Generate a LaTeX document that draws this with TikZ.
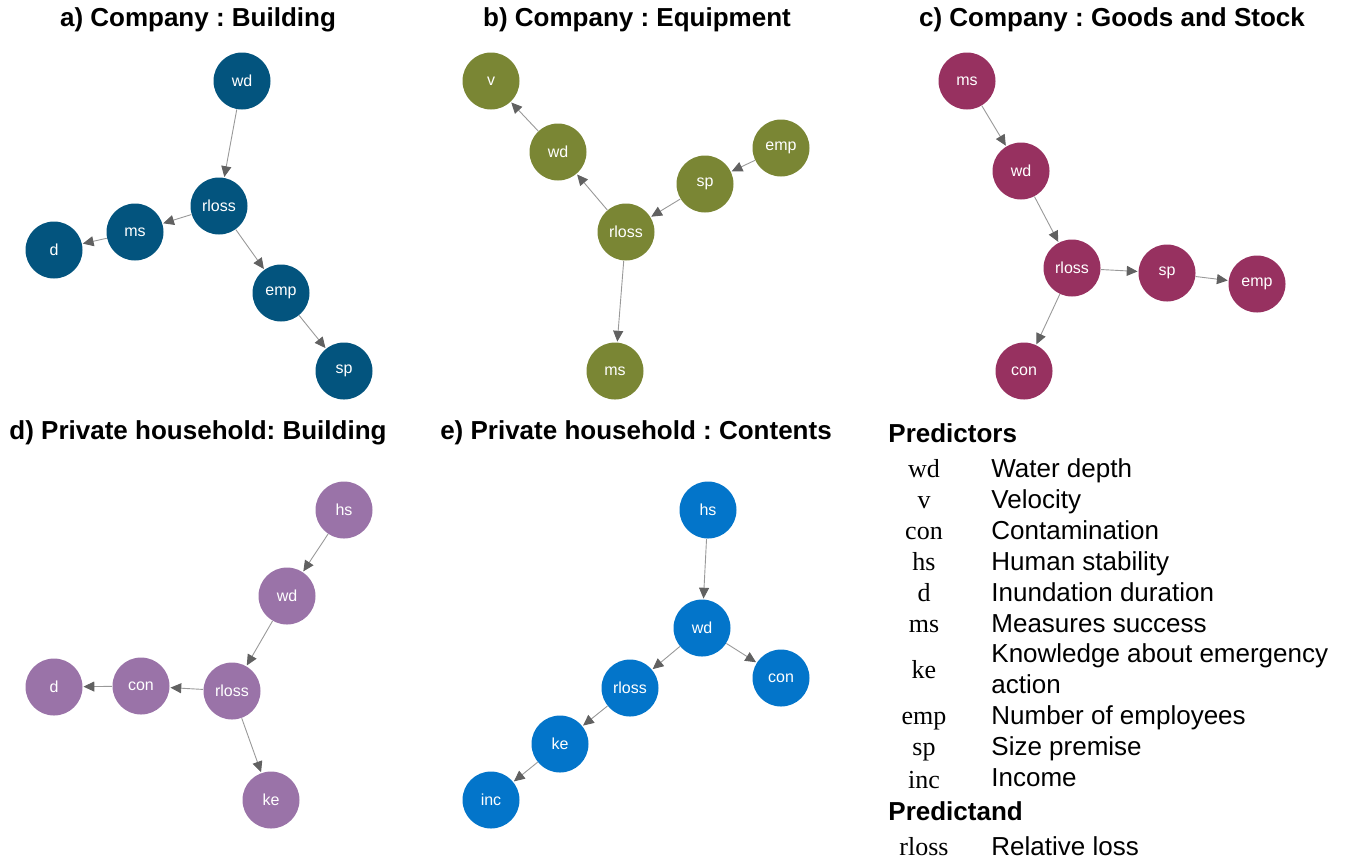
\documentclass[tikz,border=0pt]{standalone}
\usepackage{fontspec}
\setmainfont{Liberation Sans}
\newfontfamily\abbrfont{Liberation Serif}
\usetikzlibrary{arrows.meta}
\frenchspacing

\definecolor{colA}{RGB}{3,84,126}
\definecolor{colB}{RGB}{122,134,52}
\definecolor{colC}{RGB}{151,49,96}
\definecolor{colD}{RGB}{154,115,168}
\definecolor{colE}{RGB}{3,117,202}

\tikzset{
	var/.style={circle,minimum size=28.5pt,inner sep=0pt,text=white,font=\fontsize{8}{9}\selectfont},
	edge/.style={draw=black!40,line width=0.45pt,-{Triangle[length=5.4pt,width=5pt,color=black!62]},shorten >=0.3pt},
	paneltitle/.style={font=\fontsize{13}{15}\bfseries\selectfont},
	legabbr/.style={anchor=base,inner sep=0pt,font=\fontsize{13}{15}\abbrfont\selectfont},
	legtext/.style={anchor=base west,inner sep=0pt,font=\fontsize{13}{15}\selectfont}
}

\begin{document}
\begin{tikzpicture}
	\begin{scope}[x={0.5pt},y={-0.5pt}]
		\useasboundingbox (0,0) rectangle (1349,864);

		% a) company building
		\node[paneltitle] (a-title) at (198,20) {a) Company : Building};
		\node[var,fill=colA] (a-wd) at (242,81) {wd};
		\node[var,fill=colA] (a-rloss) at (219,206) {rloss};
		\node[var,fill=colA] (a-ms) at (135,232) {ms};
		\node[var,fill=colA] (a-d) at (54,250) {d};
		\node[var,fill=colA] (a-emp) at (281,293) {emp};
		\node[var,fill=colA] (a-sp) at (344,371) {sp};
		\draw[edge] (a-wd) -- (a-rloss);
		\draw[edge] (a-rloss) -- (a-ms);
		\draw[edge] (a-ms) -- (a-d);
		\draw[edge] (a-rloss) -- (a-emp);
		\draw[edge] (a-emp) -- (a-sp);

		% b) company equipment
		\node[paneltitle] (b-title) at (637,20) {b) Company : Equipment};
		\node[var,fill=colB] (b-v) at (491,81) {v};
		\node[var,fill=colB] (b-wd) at (558,152) {wd};
		\node[var,fill=colB] (b-emp) at (781,148) {emp};
		\node[var,fill=colB] (b-sp) at (705,184) {sp};
		\node[var,fill=colB] (b-rloss) at (626,232) {rloss};
		\node[var,fill=colB] (b-ms) at (615,371) {ms};
		\draw[edge] (b-wd) -- (b-v);
		\draw[edge] (b-rloss) -- (b-wd);
		\draw[edge] (b-emp) -- (b-sp);
		\draw[edge] (b-sp) -- (b-rloss);
		\draw[edge] (b-rloss) -- (b-ms);

		% c) company goods and stock
		\node[paneltitle] (c-title) at (1112,20) {c) Company : Goods and Stock};
		\node[var,fill=colC] (c-ms) at (967,81) {ms};
		\node[var,fill=colC] (c-wd) at (1021,171) {wd};
		\node[var,fill=colC] (c-rloss) at (1072,268) {rloss};
		\node[var,fill=colC] (c-sp) at (1167,273) {sp};
		\node[var,fill=colC] (c-emp) at (1257,284) {emp};
		\node[var,fill=colC] (c-con) at (1024,371) {con};
		\draw[edge] (c-ms) -- (c-wd);
		\draw[edge] (c-wd) -- (c-rloss);
		\draw[edge] (c-rloss) -- (c-sp);
		\draw[edge] (c-sp) -- (c-emp);
		\draw[edge] (c-rloss) -- (c-con);

		% d) private household building
		\node[paneltitle] (d-title) at (198,433) {d) Private household: Building};
		\node[var,fill=colD] (d-hs) at (344,510) {hs};
		\node[var,fill=colD] (d-wd) at (287,596) {wd};
		\node[var,fill=colD] (d-rloss) at (232,691) {rloss};
		\node[var,fill=colD] (d-con) at (141,686) {con};
		\node[var,fill=colD] (d-d) at (54,687) {d};
		\node[var,fill=colD] (d-ke) at (271,800) {ke};
		\draw[edge] (d-hs) -- (d-wd);
		\draw[edge] (d-wd) -- (d-rloss);
		\draw[edge] (d-rloss) -- (d-con);
		\draw[edge] (d-con) -- (d-d);
		\draw[edge] (d-rloss) -- (d-ke);

		% e) private household contents
		\node[paneltitle] (e-title) at (636,433) {e) Private household : Contents};
		\node[var,fill=colE] (e-hs) at (708,510) {hs};
		\node[var,fill=colE] (e-wd) at (702,628) {wd};
		\node[var,fill=colE] (e-con) at (781,678) {con};
		\node[var,fill=colE] (e-rloss) at (630,688) {rloss};
		\node[var,fill=colE] (e-ke) at (560,744) {ke};
		\node[var,fill=colE] (e-inc) at (491,800) {inc};
		\draw[edge] (e-hs) -- (e-wd);
		\draw[edge] (e-wd) -- (e-rloss);
		\draw[edge] (e-wd) -- (e-con);
		\draw[edge] (e-rloss) -- (e-ke);
		\draw[edge] (e-ke) -- (e-inc);

		% legend (baselines)
		\node[paneltitle,anchor=base west,inner sep=0pt] (leg-pred) at (888,442) {Predictors};
		\node[legabbr] (leg-wd) at (924,477) {wd};
		\node[legtext] (leg-wd-t) at (991,477) {Water depth};
		\node[legabbr] (leg-v) at (924,508) {v};
		\node[legtext] (leg-v-t) at (991,508) {Velocity};
		\node[legabbr] (leg-con) at (924,539) {con};
		\node[legtext] (leg-con-t) at (991,539) {Contamination};
		\node[legabbr] (leg-hs) at (924,570) {hs};
		\node[legtext] (leg-hs-t) at (991,570) {Human stability};
		\node[legabbr] (leg-d) at (924,601) {d};
		\node[legtext] (leg-d-t) at (991,601) {Inundation duration};
		\node[legabbr] (leg-ms) at (924,632) {ms};
		\node[legtext] (leg-ms-t) at (991,632) {Measures success};
		\node[legabbr] (leg-ke) at (924,678) {ke};
		\node[legtext] (leg-ke-t) at (991,662) {Knowledge about emergency};
		\node[legtext] (leg-ke-t2) at (991,693) {action};
		\node[legabbr] (leg-emp) at (924,724) {emp};
		\node[legtext] (leg-emp-t) at (991,724) {Number of employees};
		\node[legabbr] (leg-sp) at (924,755) {sp};
		\node[legtext] (leg-sp-t) at (991,755) {Size premise};
		\node[legabbr] (leg-inc) at (924,788) {inc};
		\node[legtext] (leg-inc-t) at (991,786) {Income};
		\node[paneltitle,anchor=base west,inner sep=0pt] (leg-predictand) at (888,820) {Predictand};
		\node[legabbr] (leg-rloss) at (924,855) {rloss};
		\node[legtext] (leg-rloss-t) at (991,855) {Relative loss};
	\end{scope}
\end{tikzpicture}
\end{document}
